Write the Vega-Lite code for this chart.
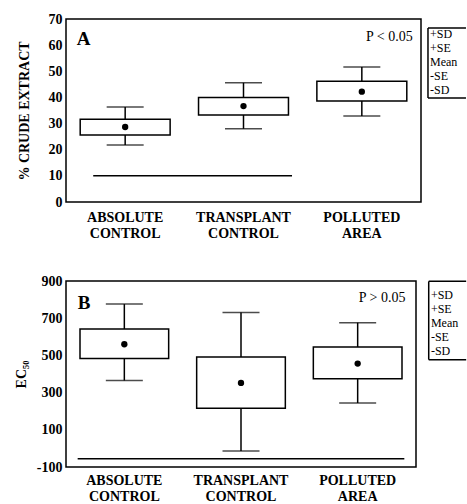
{
  "$schema": "https://vega.github.io/schema/vega-lite/v6.json",
  "padding": {"left": 13, "top": 11, "right": 0, "bottom": 0},
  "background": "white",
  "bounds": "flush",
  "spacing": 79,
  "config": {
    "font": "Liberation Serif",
    "view": {"stroke": "black", "strokeWidth": 1.5},
    "axis": {"labelFont": "Liberation Serif", "labelFontSize": 14, "labelFontWeight": "bold", "labelColor": "black", "titleFont": "Liberation Serif", "titleFontSize": 14, "titleFontWeight": "bold", "titleColor": "black", "domain": false, "ticks": false, "grid": false, "labelOverlap": false, "labelFlush": false, "labelBound": false},
    "text": {"font": "Liberation Serif", "color": "black"}
  },
  "datasets": {
    "crude": [
      {"group": "ABSOLUTE CONTROL", "sd_hi": 36.3, "se_hi": 31.7, "mean": 28.7, "se_lo": 25.6, "sd_lo": 21.8},
      {"group": "TRANSPLANT CONTROL", "sd_hi": 45.6, "se_hi": 40.0, "mean": 36.7, "se_lo": 33.3, "sd_lo": 28.0},
      {"group": "POLLUTED AREA", "sd_hi": 51.6, "se_hi": 46.2, "mean": 42.2, "se_lo": 38.6, "sd_lo": 32.9}
    ],
    "ec50": [
      {"group": "ABSOLUTE CONTROL", "sd_hi": 776, "se_hi": 642, "mean": 560, "se_lo": 483, "sd_lo": 365},
      {"group": "TRANSPLANT CONTROL", "sd_hi": 730, "se_hi": 491, "mean": 352, "se_lo": 216, "sd_lo": -14},
      {"group": "POLLUTED AREA", "sd_hi": 676, "se_hi": 545, "mean": 456, "se_lo": 375, "sd_lo": 244}
    ],
    "crudeLines": [
      {"x": 0.23, "x2": 1.91, "y": 10, "y2": 10},
      {"x": 3.059, "x2": 3.38, "y": 66.6, "y2": 66.6},
      {"x": 3.059, "x2": 3.38, "y": 39.8, "y2": 39.8},
      {"x": 3.059, "x2": 3.059, "y": 66.6, "y2": 39.8}
    ],
    "crudeLegend": [
      {"x": 3.076, "y": 64.3, "t": "+SD"},
      {"x": 3.076, "y": 58.9, "t": "+SE"},
      {"x": 3.076, "y": 53.6, "t": "Mean"},
      {"x": 3.076, "y": 48.2, "t": "-SE"},
      {"x": 3.076, "y": 42.9, "t": "-SD"}
    ],
    "ecLines": [
      {"x": 0.10, "x2": 2.90, "y": -55, "y2": -55},
      {"x": 3.109, "x2": 3.43, "y": 898, "y2": 898},
      {"x": 3.109, "x2": 3.43, "y": 477, "y2": 477},
      {"x": 3.109, "x2": 3.109, "y": 898, "y2": 477}
    ],
    "ecLegend": [
      {"x": 3.128, "y": 823, "t": "+SD"},
      {"x": 3.128, "y": 748, "t": "+SE"},
      {"x": 3.128, "y": 672, "t": "Mean"},
      {"x": 3.128, "y": 597, "t": "-SE"},
      {"x": 3.128, "y": 522, "t": "-SD"}
    ]
  },
  "vconcat": [
    {
      "width": 355,
      "height": 183,
      "resolve": {"scale": {"x": "independent"}},
      "layer": [
        {
          "data": {"name": "crude"},
          "encoding": {
            "x": {"field": "group", "type": "nominal", "sort": null, "scale": {"paddingInner": 0, "paddingOuter": 0},
                  "axis": {"title": null, "labelAngle": 0, "labelPadding": 8, "labelExpr": "split(datum.label, ' ')", "labelLineHeight": 16}}
          },
          "layer": [
            {"mark": {"type": "rule", "color": "black", "strokeWidth": 1.5},
             "encoding": {"y": {"field": "sd_hi", "type": "quantitative", "scale": {"domain": [0, 70], "nice": false},
                                "axis": {"title": "% CRUDE EXTRACT", "values": [0, 10, 20, 30, 40, 50, 60, 70], "labelOverlap": false, "labelPadding": 4, "titlePadding": 17}},
                          "y2": {"field": "sd_lo"}}},
            {"mark": {"type": "bar", "fill": "white", "stroke": "black", "strokeWidth": 1.5, "width": {"band": 0.76}},
             "encoding": {"y": {"field": "se_hi", "type": "quantitative", "axis": {"title": "% CRUDE EXTRACT", "values": [0, 10, 20, 30, 40, 50, 60, 70], "labelOverlap": false, "labelPadding": 4, "titlePadding": 17}}, "y2": {"field": "se_lo"}}},
            {"mark": {"type": "tick", "color": "black", "thickness": 1.5, "size": 37},
             "encoding": {"y": {"field": "sd_hi", "type": "quantitative", "axis": {"title": "% CRUDE EXTRACT", "values": [0, 10, 20, 30, 40, 50, 60, 70], "labelOverlap": false, "labelPadding": 4, "titlePadding": 17}}}},
            {"mark": {"type": "tick", "color": "black", "thickness": 1.5, "size": 37},
             "encoding": {"y": {"field": "sd_lo", "type": "quantitative", "axis": {"title": "% CRUDE EXTRACT", "values": [0, 10, 20, 30, 40, 50, 60, 70], "labelOverlap": false, "labelPadding": 4, "titlePadding": 17}}}},
            {"mark": {"type": "point", "filled": true, "color": "black", "opacity": 1, "size": 40},
             "encoding": {"y": {"field": "mean", "type": "quantitative", "axis": {"title": "% CRUDE EXTRACT", "values": [0, 10, 20, 30, 40, 50, 60, 70], "labelOverlap": false, "labelPadding": 4, "titlePadding": 17}}}}
          ]
        },
        {
          "layer": [
            {"data": {"name": "crudeLines"},
             "mark": {"type": "rule", "color": "black", "strokeWidth": 1.5},
             "encoding": {
               "x": {"field": "x", "type": "quantitative", "scale": {"domain": [0, 3], "nice": false, "zero": false}, "axis": null},
               "x2": {"field": "x2"},
               "y": {"field": "y", "type": "quantitative", "axis": {"title": "% CRUDE EXTRACT", "values": [0, 10, 20, 30, 40, 50, 60, 70], "labelOverlap": false, "labelPadding": 4, "titlePadding": 17}},
               "y2": {"field": "y2"}}},
            {"data": {"values": [{"x": 0.09, "y": 62.5, "t": "A"}]},
             "mark": {"type": "text", "align": "left", "baseline": "middle", "fontSize": 19, "fontWeight": "bold"},
             "encoding": {
               "x": {"field": "x", "type": "quantitative", "scale": {"domain": [0, 3], "nice": false, "zero": false}, "axis": null},
               "y": {"field": "y", "type": "quantitative", "axis": {"title": "% CRUDE EXTRACT", "values": [0, 10, 20, 30, 40, 50, 60, 70], "labelOverlap": false, "labelPadding": 4, "titlePadding": 17}},
               "text": {"field": "t"}}},
            {"data": {"values": [{"x": 2.93, "y": 63.1, "t": "P < 0.05"}]},
             "mark": {"type": "text", "align": "right", "baseline": "middle", "fontSize": 14},
             "encoding": {
               "x": {"field": "x", "type": "quantitative", "scale": {"domain": [0, 3], "nice": false, "zero": false}, "axis": null},
               "y": {"field": "y", "type": "quantitative", "axis": {"title": "% CRUDE EXTRACT", "values": [0, 10, 20, 30, 40, 50, 60, 70], "labelOverlap": false, "labelPadding": 4, "titlePadding": 17}},
               "text": {"field": "t"}}},
            {"data": {"name": "crudeLegend"},
             "mark": {"type": "text", "align": "left", "baseline": "middle", "fontSize": 12},
             "encoding": {
               "x": {"field": "x", "type": "quantitative", "scale": {"domain": [0, 3], "nice": false, "zero": false}, "axis": null},
               "y": {"field": "y", "type": "quantitative", "axis": {"title": "% CRUDE EXTRACT", "values": [0, 10, 20, 30, 40, 50, 60, 70], "labelOverlap": false, "labelPadding": 4, "titlePadding": 17}},
               "text": {"field": "t"}}}
          ]
        }
      ]
    },
    {
      "width": 350,
      "height": 186,
      "resolve": {"scale": {"x": "independent"}},
      "layer": [
        {
          "data": {"name": "ec50"},
          "encoding": {
            "x": {"field": "group", "type": "nominal", "sort": null, "scale": {"paddingInner": 0, "paddingOuter": 0},
                  "axis": {"title": null, "labelAngle": 0, "labelPadding": 6, "labelExpr": "split(datum.label, ' ')", "labelLineHeight": 16}}
          },
          "layer": [
            {"mark": {"type": "rule", "color": "black", "strokeWidth": 1.5},
             "encoding": {"y": {"field": "sd_hi", "type": "quantitative", "scale": {"domain": [-100, 900], "nice": false},
                                "axis": {"title": "EC₅₀", "values": [-100, 100, 300, 500, 700, 900], "labelExpr": "'' + datum.value", "labelOverlap": false, "labelPadding": 4, "titlePadding": 8}},
                          "y2": {"field": "sd_lo"}}},
            {"mark": {"type": "bar", "fill": "white", "stroke": "black", "strokeWidth": 1.5, "width": {"band": 0.76}},
             "encoding": {"y": {"field": "se_hi", "type": "quantitative", "axis": {"title": "EC₅₀", "values": [-100, 100, 300, 500, 700, 900], "labelExpr": "'' + datum.value", "labelOverlap": false, "labelPadding": 4, "titlePadding": 8}}, "y2": {"field": "se_lo"}}},
            {"mark": {"type": "tick", "color": "black", "thickness": 1.5, "size": 37},
             "encoding": {"y": {"field": "sd_hi", "type": "quantitative", "axis": {"title": "EC₅₀", "values": [-100, 100, 300, 500, 700, 900], "labelExpr": "'' + datum.value", "labelOverlap": false, "labelPadding": 4, "titlePadding": 8}}}},
            {"mark": {"type": "tick", "color": "black", "thickness": 1.5, "size": 37},
             "encoding": {"y": {"field": "sd_lo", "type": "quantitative", "axis": {"title": "EC₅₀", "values": [-100, 100, 300, 500, 700, 900], "labelExpr": "'' + datum.value", "labelOverlap": false, "labelPadding": 4, "titlePadding": 8}}}},
            {"mark": {"type": "point", "filled": true, "color": "black", "opacity": 1, "size": 40},
             "encoding": {"y": {"field": "mean", "type": "quantitative", "axis": {"title": "EC₅₀", "values": [-100, 100, 300, 500, 700, 900], "labelExpr": "'' + datum.value", "labelOverlap": false, "labelPadding": 4, "titlePadding": 8}}}}
          ]
        },
        {
          "layer": [
            {"data": {"name": "ecLines"},
             "mark": {"type": "rule", "color": "black", "strokeWidth": 1.5},
             "encoding": {
               "x": {"field": "x", "type": "quantitative", "scale": {"domain": [0, 3], "nice": false, "zero": false}, "axis": null},
               "x2": {"field": "x2"},
               "y": {"field": "y", "type": "quantitative", "axis": {"title": "EC₅₀", "values": [-100, 100, 300, 500, 700, 900], "labelExpr": "'' + datum.value", "labelOverlap": false, "labelPadding": 4, "titlePadding": 8}},
               "y2": {"field": "y2"}}},
            {"data": {"values": [{"x": 0.10, "y": 782, "t": "B"}]},
             "mark": {"type": "text", "align": "left", "baseline": "middle", "fontSize": 19, "fontWeight": "bold"},
             "encoding": {
               "x": {"field": "x", "type": "quantitative", "scale": {"domain": [0, 3], "nice": false, "zero": false}, "axis": null},
               "y": {"field": "y", "type": "quantitative", "axis": {"title": "EC₅₀", "values": [-100, 100, 300, 500, 700, 900], "labelExpr": "'' + datum.value", "labelOverlap": false, "labelPadding": 4, "titlePadding": 8}},
               "text": {"field": "t"}}},
            {"data": {"values": [{"x": 2.91, "y": 809, "t": "P > 0.05"}]},
             "mark": {"type": "text", "align": "right", "baseline": "middle", "fontSize": 14},
             "encoding": {
               "x": {"field": "x", "type": "quantitative", "scale": {"domain": [0, 3], "nice": false, "zero": false}, "axis": null},
               "y": {"field": "y", "type": "quantitative", "axis": {"title": "EC₅₀", "values": [-100, 100, 300, 500, 700, 900], "labelExpr": "'' + datum.value", "labelOverlap": false, "labelPadding": 4, "titlePadding": 8}},
               "text": {"field": "t"}}},
            {"data": {"name": "ecLegend"},
             "mark": {"type": "text", "align": "left", "baseline": "middle", "fontSize": 12},
             "encoding": {
               "x": {"field": "x", "type": "quantitative", "scale": {"domain": [0, 3], "nice": false, "zero": false}, "axis": null},
               "y": {"field": "y", "type": "quantitative", "axis": {"title": "EC₅₀", "values": [-100, 100, 300, 500, 700, 900], "labelExpr": "'' + datum.value", "labelOverlap": false, "labelPadding": 4, "titlePadding": 8}},
               "text": {"field": "t"}}}
          ]
        }
      ]
    }
  ]
}
